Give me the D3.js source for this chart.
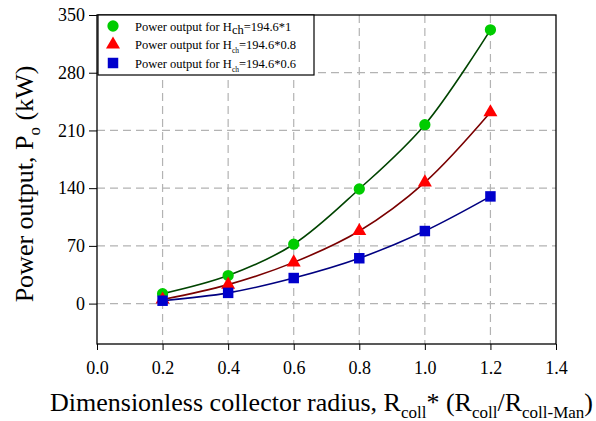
<!DOCTYPE html>
<html><head><meta charset="utf-8">
<script src="https://cdn.jsdelivr.net/npm/d3@7"></script>
<style>body{margin:0;background:#fff}svg{display:block}svg text{font-family:"Liberation Serif","Times New Roman","DejaVu Serif",serif !important}</style>
</head><body><svg id="c" width="596" height="421"></svg>
<script>
const xValues = [0.2, 0.4, 0.6, 0.8, 1.0, 1.2];
const seriesNames = ["Power output for H", "Power output for H", "Power output for H"];
const seriesSuffix = ["=194.6*1", "=194.6*0.8", "=194.6*0.6"];
const powerFull = [12, 34, 72, 139, 217, 332];
const power08 = [5, 23, 50, 88, 147, 232];
const power06 = [3.5, 13, 31, 55, 88, 130];
const xTicks = [0.0, 0.2, 0.4, 0.6, 0.8, 1.0, 1.2, 1.4];
const yTicks = [0, 70, 140, 210, 280, 350];

const svg = d3.select("#c");
const x = d3.scaleLinear().domain([0, 1.4]).range([97, 556]);
const y = d3.scaleLinear().domain([-49, 350]).range([344, 15]);

const series = [
  {vals: powerFull, fill: "#00cc00", line: "#004400", shape: d3.symbolCircle, size: 100},
  {vals: power08, fill: "#ff0000", line: "#7a0000", shape: d3.symbolTriangle, size: 85},
  {vals: power06, fill: "#0000cc", line: "#000080", shape: d3.symbolSquare, size: 110}
];

const g = svg.append("g");
g.selectAll(".gx").data(xTicks.filter(t => t > 0 && t < 1.4)).join("line")
  .attr("x1", d => x(d)).attr("x2", d => x(d)).attr("y1", y(350)).attr("y2", y(-49))
  .attr("stroke", "#b3b3b3").attr("stroke-width", 1.2).attr("stroke-dasharray", "8,5");
g.selectAll(".gy").data(yTicks.filter(t => t < 350)).join("line")
  .attr("x1", x(0)).attr("x2", x(1.4)).attr("y1", d => y(d)).attr("y2", d => y(d))
  .attr("stroke", "#b3b3b3").attr("stroke-width", 1.2).attr("stroke-dasharray", "8,5");

const line = d3.line().x(d => x(d[0])).y(d => y(d[1])).curve(d3.curveCatmullRom.alpha(0.5));
series.forEach(s => {
  svg.append("path").datum(xValues.map((v, i) => [v, s.vals[i]]))
    .attr("d", line).attr("fill", "none").attr("stroke", s.line).attr("stroke-width", 1.6);
});
series.forEach(s => {
  svg.append("g").selectAll("path").data(xValues.map((v, i) => [v, s.vals[i]])).join("path")
    .attr("d", d3.symbol().type(s.shape).size(s.size))
    .attr("transform", d => `translate(${x(d[0])},${y(d[1])})`)
    .attr("fill", s.fill);
});

const xAxis = d3.axisBottom(x).tickValues(xTicks).tickFormat(d3.format(".1f")).tickSizeOuter(0).tickSize(6).tickPadding(11);
const yAxis = d3.axisLeft(y).tickValues(yTicks).tickSizeOuter(0).tickSize(8).tickPadding(4);
const ax = svg.append("g").attr("transform", `translate(0,${y(-49)})`).call(xAxis);
const ay = svg.append("g").attr("transform", `translate(${x(0)},0)`).call(yAxis);
[ax, ay].forEach(a => {
  a.attr("font-family", null);
  a.select(".domain").remove();
  a.selectAll("line").attr("stroke", "#000").attr("stroke-width", 1);
  a.selectAll("text").attr("fill", "#000").style("font-size", "18px");
});
svg.append("rect").attr("x", x(0)).attr("y", y(350)).attr("width", x(1.4) - x(0)).attr("height", y(-49) - y(350))
  .attr("fill", "none").attr("stroke", "#000").attr("stroke-width", 1.3);

const lg = svg.append("g");
lg.append("rect").attr("x", 98).attr("y", 15).attr("width", 216).attr("height", 60)
  .attr("fill", "#fff").attr("stroke", "#000").attr("stroke-width", 1.2);
series.forEach((s, i) => {
  const yy = 26 + i * 18.5;
  lg.append("path").attr("d", d3.symbol().type(s.shape).size(s.size)).attr("transform", `translate(113,${yy})`).attr("fill", s.fill);
  const t = lg.append("text").attr("x", 135).attr("y", yy + 4.5).style("font-size", "12.5px");
  t.append("tspan").text(seriesNames[i]);
  t.append("tspan").attr("dy", i === 0 ? 3 : 4).style("font-size", i === 0 ? "12.5px" : "7.5px").text("ch");
  t.append("tspan").attr("dy", i === 0 ? -3 : -4).text(seriesSuffix[i]);
});

const xt = svg.append("text").attr("x", 50).attr("y", 411).style("font-size", "26px");
xt.append("tspan").text("Dimensionless collector radius, R");
xt.append("tspan").attr("dy", 7).style("font-size", "17px").text("coll");
xt.append("tspan").attr("dy", -7).text("* (R");
xt.append("tspan").attr("dy", 7).style("font-size", "17px").text("coll");
xt.append("tspan").attr("dy", -7).text("/R");
xt.append("tspan").attr("dy", 7).style("font-size", "17px").text("coll-Man");
xt.append("tspan").attr("dy", -7).text(")");

const yt = svg.append("text").attr("transform", "translate(33,184) rotate(-90)").attr("text-anchor", "middle").style("font-size", "26px");
yt.append("tspan").text("Power output, P");
yt.append("tspan").attr("dy", 7).style("font-size", "17px").text("o");
yt.append("tspan").attr("dy", -7).text(" (kW)");
</script></body></html>
